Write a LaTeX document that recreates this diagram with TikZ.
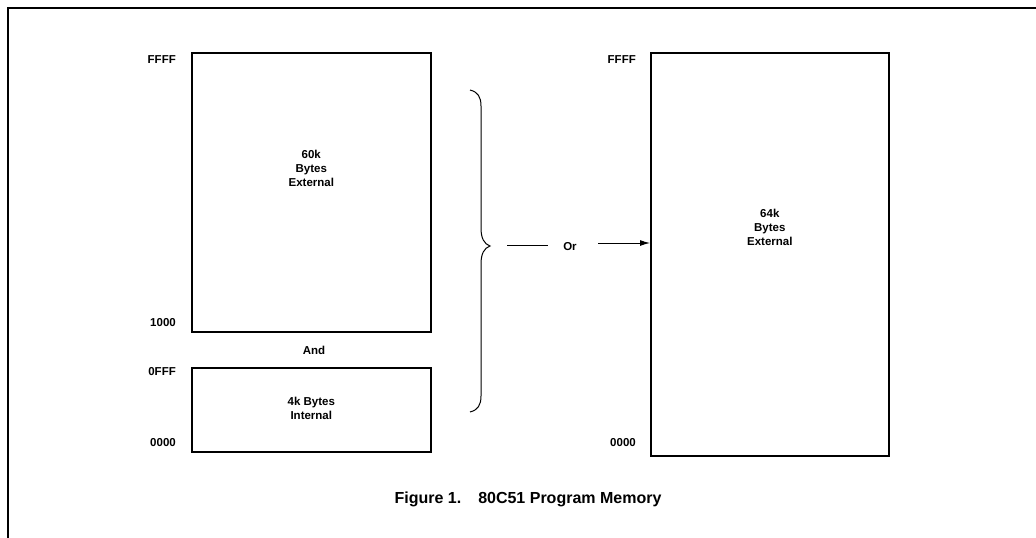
\documentclass[tikz,border=0pt]{standalone}
\usepackage{fontspec}
\setmainfont{Liberation Sans}
\usetikzlibrary{arrows.meta}
\begin{document}
\begin{tikzpicture}[x=1pt,y=-1pt,
  mem/.style={draw,line width=1.6pt,inner sep=0pt,anchor=north west},
  lab/.style={font=\bfseries\fontsize{11.5}{13}\selectfont,inner sep=0pt},
  txt/.style={font=\bfseries\fontsize{11.5}{14}\selectfont,align=center,inner sep=0pt}]
\useasboundingbox (0,0) rectangle (1036,538);
% outer frame (cropped)
\draw[line width=1.8pt] (8,545) -- (8,8) -- (1045,8);
% left boxes
\node[mem,minimum width=239pt,minimum height=279pt] (ext) at (191,52) {};
\node[mem,minimum width=239pt,minimum height=84pt] (int) at (191,367) {};
\node[txt] (extt) at (ext.north |- 0,168) {60k\\Bytes\\External};
\node[txt] (intt) at (int.north |- 0,408) {4k Bytes\\Internal};
\node[lab,anchor=east] (l1) at (176,60) {FFFF};
\node[lab,anchor=east] (l2) at (176,323) {1000};
\node[lab,anchor=east] (l3) at (176,372) {0FFF};
\node[lab,anchor=east] (l4) at (176,443) {0000};
\node[lab] (and) at (314,350) {And};
% right box
\node[mem,minimum width=238pt,minimum height=403pt] (full) at (650,52) {};
\node[txt] (fullt) at (full.north |- 0,227) {64k\\Bytes\\External};
\node[lab,anchor=east] (r1) at (636,60) {FFFF};
\node[lab,anchor=east] (r2) at (636,443) {0000};
% brace
\draw[line width=1pt] (470,90) .. controls (478,92) and (481,97) .. (481,106)
  -- (481,228) .. controls (481,238) and (484,244) .. (490,246)
  .. controls (484,248) and (481,254) .. (481,264)
  -- (481,396) .. controls (481,405) and (478,410) .. (470,412);
\coordinate (tip) at (507,245);
\coordinate (d2) at (548,245);
\node[lab] (or) at (570,247) {Or};
\draw[line width=1pt] (tip) -- (d2);
\draw[line width=1pt,-{Latex[length=10pt,width=6pt]}] (598,243) -- (full.west |- 0,243);
% caption
\node[font=\bfseries\fontsize{16}{18}\selectfont,inner sep=0pt] (cap) at (528,499) {Figure 1.\hspace{17pt}80C51 Program Memory};
\end{tikzpicture}
\end{document}
